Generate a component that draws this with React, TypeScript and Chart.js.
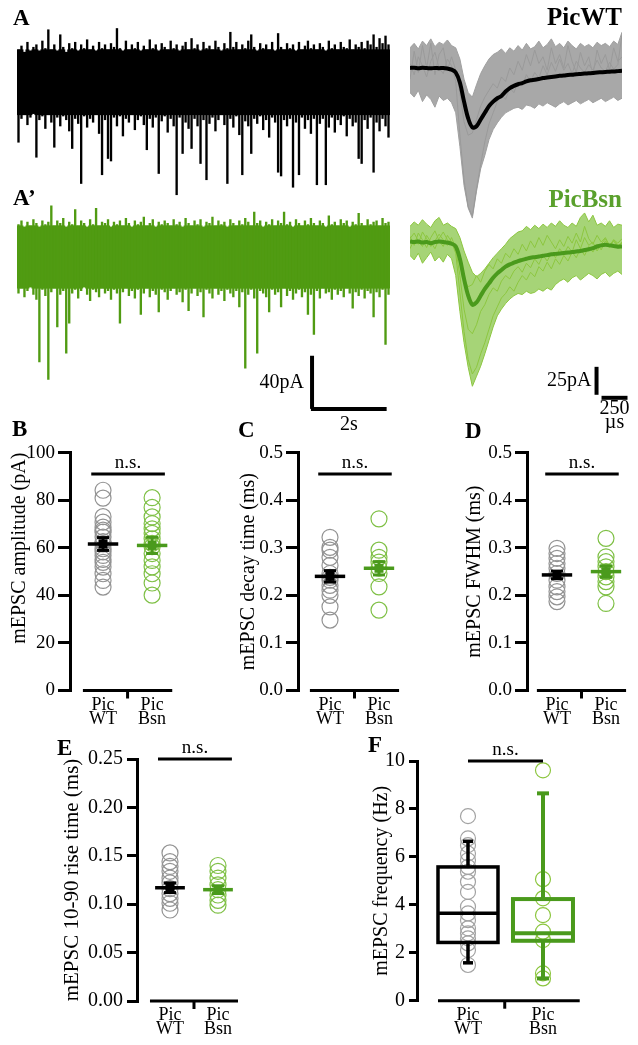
import React, { useEffect, useRef } from "react";
import { Chart, registerables } from "chart.js";

Chart.register(...registerables);

const SERIF = "'Liberation Serif', 'Times New Roman', Times, serif";
const BLACK = "#000000";
const TRACE_GREEN = "#509b12";
const LIGHT_GREEN = "#8cc63f";
const MEAN_GREEN = "#4a9a1c";
const DOT_GRAY = "#939393";
const DOT_GREEN = "#7fc046";
const LABEL_GREEN = "#5aa02c";

// ---------- A / A' : continuous recordings, per-bin max / min (pA), 0.08 s bins ----------
const binSeconds = 0.08;
const wtTraceMax = [
  26, 29, 24, 32, 25, 28, 30, 25, 33, 27,
  42, 26, 30, 25, 38, 28, 24, 31, 27, 32,
  25, 30, 27, 34, 26, 29, 25, 32, 27, 30,
  26, 31, 28, 43, 27, 25, 33, 26, 30, 27,
  32, 25, 29, 26, 34, 27, 30, 25, 31, 28,
  26, 33, 27, 30, 25, 29, 32, 26, 35, 27,
  30, 25, 32, 27, 29, 26, 33, 28, 25, 31,
  27, 40, 28, 32, 26, 30, 27, 33, 38, 28,
  25, 31, 27, 30, 26, 32, 25, 39, 28, 26,
  31, 27, 30, 25, 32, 26, 29, 33, 27, 30,
  26, 31, 28, 25, 33, 27, 30, 26, 32, 28,
  27, 34, 26, 30, 28, 32, 27, 33, 30, 38,
  28, 35, 31, 37, 30,
];
const wtTraceMin = [
  -48, -29, -26, -34, -28, -25, -60, -30, -27, -37,
  -26, -32, -52, -28, -35, -27, -30, -39, -53, -29,
  -33, -81, -27, -36, -29, -32, -26, -41, -74, -30,
  -61, -63, -28, -35, -27, -43, -29, -32, -26, -38,
  -30, -27, -34, -54, -29, -36, -28, -73, -31, -27,
  -40, -29, -35, -90, -28, -57, -32, -37, -53, -29,
  -35, -65, -30, -78, -33, -28, -39, -30, -26, -34,
  -81, -29, -36, -27, -42, -74, -31, -35, -57, -29,
  -33, -27, -38, -30, -44, -28, -32, -72, -75, -30,
  -35, -29, -84, -32, -74, -28, -37, -30, -41, -29,
  -82, -33, -29, -82, -36, -28, -40, -30, -34, -27,
  -43, -29, -35, -32, -61, -65, -30, -37, -28, -72,
  -32, -39, -29, -35, -44,
];
const bsnTraceMax = [
  26, 29, 24, 28, 25, 30, 27, 24, 29, 26,
  28, 41, 25, 29, 27, 31, 24, 28, 26, 38,
  25, 29, 27, 24, 30, 26, 39, 25, 28, 27,
  30, 24, 28, 26, 29, 25, 31, 27, 24, 29,
  26, 28, 32, 25, 27, 30, 24, 28, 26, 29,
  27, 25, 30, 26, 28, 24, 31, 27, 25, 29,
  26, 30, 24, 28, 27, 32, 25, 29, 26, 28,
  24, 30, 27, 25, 29, 26, 31, 28, 25, 36,
  27, 29, 24, 28, 26, 30, 25, 29, 27, 36,
  26, 28, 24, 30, 27, 25, 29, 26, 31, 27,
  25, 29, 27, 24, 33, 26, 28, 25, 30, 27,
  29, 24, 28, 26, 35, 27, 25, 30, 26, 28,
  29, 25, 31, 27, 28,
];
const bsnTraceMin = [
  -29, -25, -32, -27, -24, -30, -34, -84, -26, -31,
  -98, -28, -25, -56, -30, -27, -77, -53, -29, -26,
  -33, -27, -24, -30, -35, -26, -28, -32, -25, -29,
  -27, -34, -26, -29, -53, -28, -25, -31, -27, -33,
  -26, -46, -29, -25, -32, -27, -30, -44, -26, -28,
  -34, -27, -25, -30, -28, -36, -26, -43, -29, -25,
  -31, -28, -48, -26, -29, -33, -25, -30, -27, -35,
  -26, -29, -32, -27, -40, -28, -89, -30, -26, -33,
  -77, -27, -29, -32, -44, -26, -30, -28, -40, -25,
  -31, -27, -34, -29, -26, -32, -28, -46, -30, -62,
  -27, -33, -25, -29, -28, -34, -26, -30, -27, -32,
  -25, -29, -41, -28, -31, -26, -33, -27, -29, -48,
  -28, -32, -26, -70, -30,
];
// half-width (pA) of the dense noise core drawn as a solid band
const wtNoiseCore = 26;
const bsnNoiseCore = 25;

// ---------- averaged events (pA), sampled every 40 µs ----------
const eventStepUs = 40;
const wtEventMean = [
  0, 0.3, -0.2, 0.2, 0, -0.3, 0.1, -0.2, 0, -0.5,
  -1.5, -4, -13, -30, -45, -53, -52, -46, -40, -34,
  -30, -27, -25, -21, -18, -16, -14.5, -13.5, -12, -11,
  -10.5, -9.8, -9, -8.5, -8, -7.5, -7, -6.8, -6.3, -6,
  -5.6, -5.3, -5, -4.7, -4.4, -4, -3.8, -3.6, -3.3, -3.1,
  -2.8, -2.5,
];
const wtEventUpper = [
  18, 22, 17, 24, 20, 26, 19, 23, 21, 25,
  20, 18, 8, -10, -22, -26, -15, -5, 2, 8,
  12, 14, 17, 13, 18, 15, 20, 16, 22, 17,
  19, 24, 18, 21, 26, 19, 22, 18, 24, 20,
  17, 22, 19, 21, 18, 23, 20, 22, 19, 24,
  21, 32,
];
const wtEventLower = [
  -22, -26, -20, -30, -24, -28, -35, -25, -29, -27,
  -31, -40, -70, -105, -125, -134, -110, -90, -78, -64,
  -55, -49, -44, -40, -38, -36, -35, -37, -33, -34,
  -36, -32, -34, -31, -33, -35, -32, -30, -33, -31,
  -29, -32, -30, -28, -31, -29, -27, -30, -28, -26,
  -29, -27,
];
const wtEventSingle1 = [
  4, -6, 10, 2, -8, 6, 14, 0, -5, 8,
  2, -12, -60, -100, -124, -132, -108, -86, -66, -50,
  -40, -30, -24, -28, -18, -22, -12, -16, -6, -12,
  -4, -9, 2, -6, 5, -3, 8, -2, 4, -5,
  6, 0, -4, 3, -2, 7, 0, -3, 5, -1,
  3, 30,
];
const wtEventSingle2 = [
  -10, 15, -4, 20, 0, 22, -6, 12, 18, -2,
  10, -2, -22, -48, -60, -58, -46, -34, -26, -20,
  -14, -18, -8, -12, 0, -6, 6, -2, 12, 2,
  16, 4, 10, -2, 18, 4, 12, 0, 20, 6,
  -4, 14, 2, 10, -6, 16, 4, 12, -2, 18,
  6, 10,
];
const bsnEventMean = [
  0.5, 0, 0.5, -0.5, 0, -1, 0, 0.5, 0, -0.5,
  -1.5, -4, -15, -33, -48, -56, -54, -48, -42, -37,
  -32, -28, -25, -22, -20, -18.5, -17, -16, -15, -14,
  -13.5, -13, -12.2, -11.7, -11, -10.6, -10.2, -9.8, -9.4, -9,
  -8.5, -8, -7.2, -6.5, -5.5, -4, -3, -2.5, -3, -3.5,
  -4.2, -4,
];
const bsnEventUpper = [
  14, 18, 15, 20, 16, 13, 19, 22, 15, 17,
  14, 12, 4, -8, -18, -27, -31, -28, -24, -19,
  -14, -10, -6, -2, 3, 6, 9, 10, 14, 11,
  15, 12, 16, 13, 17, 14, 19, 15, 13, 17,
  14, 22, 26, 18, 24, 15, 17, 14, 19, 13,
  16, 15,
];
const bsnEventLower = [
  -12, -16, -10, -19, -14, -9, -17, -13, -18, -11,
  -15, -30, -62, -90, -112, -129, -120, -111, -100, -88,
  -76, -66, -60, -55, -51, -48, -46, -47, -44, -46,
  -45, -42, -44, -41, -43, -38, -35, -33, -36, -32,
  -30, -34, -31, -28, -30, -33, -29, -27, -31, -28,
  -26, -29,
];
const bsnEventSingle1 = [
  5, -3, 8, 2, -5, 4, 10, 1, -4, 6,
  0, -10, -45, -80, -105, -118, -112, -100, -90, -78,
  -66, -58, -50, -46, -40, -44, -36, -30, -34, -27,
  -31, -22, -26, -18, -24, -15, -20, -12, -17, -9,
  -14, -6, -12, -4, -9, -2, -7, 1, -5, 2,
  -3, -1,
];
const bsnEventSingle2 = [
  -6, 2, -2, 9, 3, -4, 1, 7, 2, -3,
  4, -6, -30, -60, -78, -82, -74, -62, -56, -47,
  -41, -44, -35, -30, -33, -26, -22, -27, -19, -23,
  -15, -20, -12, -17, -10, -14, -6, -11, -4, -9,
  2, -6, 4, -3, 0, -8, -2, 3, -4, 1,
  -5, 0,
];
const bsnEventSingle3 = [
  3, 8, 1, -4, 6, 0, -6, 3, 9, 2,
  -2, -5, -18, -34, -40, -38, -30, -36, -26, -20,
  -24, -15, -19, -10, -14, -6, -11, -2, -8, 1,
  -5, 4, -3, 6, 0, -6, 2, -4, 5, -1,
  8, 0, 14, 3, -2, 6, 0, 4, -3, 2,
  -1, 3,
];

// ---------- B-F : per-cell values ----------
const groupLabels = [["Pic", "WT"], ["Pic", "Bsn"]];
const ampWT = [84.2, 80.9, 73.1, 70.8, 68.7, 67.4, 66.6, 64.5, 62.6, 61.7, 59.6, 58.3, 56.8, 55.1, 53.9, 51.9, 49.1, 46.3, 43.5];
const ampBsn = [81.1, 77.0, 73.0, 70.2, 68.0, 66.1, 63.8, 61.9, 60.5, 57.6, 54.7, 52.0, 49.1, 45.2, 40.1];
const ampMean = [61.6, 61.0];
const ampSem = [2.7, 3.4];

const decayWT = [0.322, 0.301, 0.295, 0.28, 0.263, 0.246, 0.238, 0.232, 0.221, 0.211, 0.2, 0.176, 0.148];
const decayBsn = [0.361, 0.295, 0.28, 0.27, 0.257, 0.246, 0.218, 0.169];
const decayMean = [0.24, 0.257];
const decaySem = [0.012, 0.014];

const fwhmWT = [0.299, 0.288, 0.278, 0.267, 0.257, 0.246, 0.232, 0.218, 0.208, 0.197, 0.187];
const fwhmBsn = [0.32, 0.281, 0.271, 0.26, 0.25, 0.239, 0.229, 0.218, 0.183];
const fwhmMean = [0.243, 0.25];
const fwhmSem = [0.008, 0.012];

const riseWT = [0.153, 0.144, 0.139, 0.134, 0.127, 0.122, 0.116, 0.111, 0.106, 0.101, 0.094];
const riseBsn = [0.14, 0.134, 0.127, 0.12, 0.115, 0.1095, 0.104, 0.099];
const riseMean = [0.117, 0.115];
const riseSem = [0.005, 0.004];

const freqWT = [7.7, 6.77, 6.49, 6.14, 5.86, 5.58, 5.38, 4.96, 4.54, 3.92, 3.64, 3.36, 3.02, 2.81, 2.6, 2.39, 2.11, 1.49];
const freqBsn = [9.61, 5.07, 4.27, 3.57, 2.88, 2.53, 1.14, 0.93];
// [min, q1, median, q3, max]
const freqBoxWT = [1.58, 2.43, 3.65, 5.58, 6.65];
const freqBoxBsn = [0.93, 2.5, 2.81, 4.24, 8.65];

// ---------- helpers ----------
type Pad = { left: number; top: number; right: number; bottom: number };

function baseOptions(pad: Pad) {
  return {
    responsive: false,
    maintainAspectRatio: false,
    animation: false,
    devicePixelRatio: 1,
    events: [],
    layout: { padding: pad, autoPadding: false },
    plugins: { legend: { display: false }, tooltip: { enabled: false }, title: { display: false } },
  };
}

type ScaleBar = {
  vAt: number; vFrom: number; vTo: number; vText: string; vGap: number;
  hFrom: number; hTo: number; hAt: number; hText: string[]; hOffset: number; hLine: number;
};

function scaleBarPlugin(b: ScaleBar) {
  return {
    id: "scaleBar",
    afterDraw(chart: any) {
      const { ctx } = chart;
      const xs = chart.scales.x;
      const ys = chart.scales.y;
      ctx.save();
      ctx.strokeStyle = BLACK;
      ctx.lineWidth = 4;
      ctx.lineCap = "butt";
      const vx = xs.getPixelForValue(b.vAt);
      const vy0 = ys.getPixelForValue(b.vFrom);
      const vy1 = ys.getPixelForValue(b.vTo);
      ctx.beginPath();
      ctx.moveTo(vx, vy0);
      ctx.lineTo(vx, vy1);
      ctx.stroke();
      const hx0 = xs.getPixelForValue(b.hFrom);
      const hx1 = xs.getPixelForValue(b.hTo);
      const hy = ys.getPixelForValue(b.hAt);
      ctx.beginPath();
      ctx.moveTo(hx0, hy);
      ctx.lineTo(hx1, hy);
      ctx.stroke();
      ctx.fillStyle = BLACK;
      ctx.font = `20px ${SERIF}`;
      ctx.textAlign = "right";
      ctx.textBaseline = "middle";
      ctx.fillText(b.vText, vx - b.vGap, (vy0 + vy1) / 2);
      ctx.textAlign = "center";
      b.hText.forEach((s, i) => ctx.fillText(s, (hx0 + hx1) / 2, hy + b.hOffset + i * b.hLine));
      ctx.restore();
    },
  };
}

function traceConfig(hi: number[], lo: number[], core: number, color: string, yMin: number, yMax: number, pad: Pad, bar?: ScaleBar) {
  const coreData = hi.map((h, i) => ({ x: i * binSeconds, y: [Math.max(lo[i], -core), Math.min(h, core)] }));
  const fullData = hi.map((h, i) => ({ x: i * binSeconds, y: [lo[i], h] }));
  return {
    type: "bar",
    data: {
      datasets: [
        { data: fullData, backgroundColor: color, borderWidth: 0, barThickness: 1.7, grouped: false },
        { data: coreData, backgroundColor: color, borderWidth: 0, barThickness: 3.3, grouped: false },
      ],
    },
    options: {
      ...baseOptions(pad),
      scales: {
        x: { type: "linear", display: false, offset: false, min: -binSeconds / 2, max: (hi.length - 0.5) * binSeconds },
        y: { type: "linear", display: false, min: yMin, max: yMax },
      },
    },
    plugins: bar ? [scaleBarPlugin(bar)] : [],
  };
}

function eventConfig(
  mean: number[], upper: number[], lower: number[], singles: number[][],
  colors: { mean: string; single: string; env: string; fill: string },
  yMin: number, yMax: number, pad: Pad, bar?: ScaleBar
) {
  const xy = (arr: number[]) => arr.map((v, k) => ({ x: k * eventStepUs, y: v }));
  const datasets: any[] = [
    { data: xy(mean), borderColor: colors.mean, borderWidth: 4, tension: 0.35, order: 0 },
    ...singles.map((tr) => ({ data: xy(tr), borderColor: colors.single, borderWidth: 1, order: 1 })),
    { data: xy(upper), borderColor: colors.env, borderWidth: 1, order: 2, fill: false },
    { data: xy(lower), borderColor: colors.env, borderWidth: 1, order: 2, fill: "-1", backgroundColor: colors.fill },
  ];
  return {
    type: "line",
    data: { datasets },
    options: {
      ...baseOptions(pad),
      elements: { point: { radius: 0 } },
      scales: {
        x: { type: "linear", display: false, min: 0, max: (mean.length - 1) * eventStepUs },
        y: { type: "linear", display: false, min: yMin, max: yMax },
      },
    },
    plugins: bar ? [scaleBarPlugin(bar)] : [],
  };
}

type ScatterSpec = {
  wt: number[]; bsn: number[];
  mean?: number[]; sem?: number[];
  box?: number[][];
  yMin: number; yMax: number; yStep: number; decimals: number;
  title: string; titleSize: number; titlePad: number; titleAlign?: string;
  tickSize: number; tickLen: number; tickPad: number;
  yWidth: number; pad: Pad;
  xMin: number; xMax: number; xHeight: number; xPad: number;
  radius: number; dotGray: string; dotGreen: string;
  nsY: number; nsFrom: number; nsTo: number;
  axisFrom: number; axisTo: number; axisMid: number;
};

function line(ctx: any, x0: number, y0: number, x1: number, y1: number, color: string, w: number) {
  ctx.strokeStyle = color;
  ctx.lineWidth = w;
  ctx.beginPath();
  ctx.moveTo(x0, y0);
  ctx.lineTo(x1, y1);
  ctx.stroke();
}

function scatterDecor(p: ScatterSpec) {
  return {
    id: "decor",
    afterDatasetsDraw(chart: any) {
      const { ctx } = chart;
      const xs = chart.scales.x;
      const ys = chart.scales.y;
      const colors = [BLACK, MEAN_GREEN];
      ctx.save();
      ctx.lineCap = "butt";
      if (p.box) {
        p.box.forEach((b, g) => {
          const c = colors[g];
          const w = g === 0 ? 3.5 : 4;
          const cx = xs.getPixelForValue(g + 1);
          const xl = xs.getPixelForValue(g + 1 - 0.4);
          const xr = xs.getPixelForValue(g + 1 + 0.4);
          const [mn, q1, md, q3, mx] = b.map((v) => ys.getPixelForValue(v));
          const cap = g === 0 ? 5 : 6;
          line(ctx, cx, q3, cx, mx, c, w);
          line(ctx, cx - cap, mx, cx + cap, mx, c, w);
          line(ctx, cx, q1, cx, mn, c, w);
          line(ctx, cx - cap, mn, cx + cap, mn, c, w);
          ctx.strokeStyle = c;
          ctx.lineWidth = w;
          ctx.strokeRect(xl, q3, xr - xl, q1 - q3);
          line(ctx, xl, md, xr, md, c, w);
        });
      }
      if (p.mean && p.sem) {
        p.mean.forEach((m, g) => {
          const c = colors[g];
          const cx = xs.getPixelForValue(g + 1);
          const ym = ys.getPixelForValue(m);
          const yHi = ys.getPixelForValue(m + p.sem![g]);
          const yLo = ys.getPixelForValue(m - p.sem![g]);
          line(ctx, xs.getPixelForValue(g + 1 - 0.31), ym, xs.getPixelForValue(g + 1 + 0.31), ym, c, 3.5);
          line(ctx, cx, yHi, cx, yLo, c, 3);
          line(ctx, cx - 6, yHi, cx + 6, yHi, c, 3);
          line(ctx, cx - 6, yLo, cx + 6, yLo, c, 3);
          ctx.fillStyle = c;
          ctx.fillRect(cx - 4.5, ym - 4.5, 9, 9);
        });
      }
      // offset x axis
      const y0 = ys.getPixelForValue(p.yMin);
      line(ctx, xs.getPixelForValue(p.axisFrom), y0, xs.getPixelForValue(p.axisTo), y0, BLACK, 3);
      const xm = xs.getPixelForValue(p.axisMid);
      line(ctx, xm, y0, xm, y0 + 8, BLACK, 3);
      // n.s.
      const yn = ys.getPixelForValue(p.nsY);
      const n0 = xs.getPixelForValue(p.nsFrom);
      const n1 = xs.getPixelForValue(p.nsTo);
      line(ctx, n0, yn, n1, yn, BLACK, 3);
      ctx.fillStyle = BLACK;
      ctx.font = `19px ${SERIF}`;
      ctx.textAlign = "center";
      ctx.textBaseline = "alphabetic";
      ctx.fillText("n.s.", (n0 + n1) / 2, yn - 6);
      ctx.restore();
    },
  };
}

function scatterConfig(p: ScatterSpec) {
  const pts = (arr: number[], g: number) => arr.map((v) => ({ x: g, y: v }));
  return {
    type: "scatter",
    data: {
      datasets: [
        { data: pts(p.wt, 1), pointRadius: p.radius, pointBorderWidth: 1.2, pointBorderColor: p.dotGray, pointBackgroundColor: "rgba(0,0,0,0)" },
        { data: pts(p.bsn, 2), pointRadius: p.radius, pointBorderWidth: 1.2, pointBorderColor: p.dotGreen, pointBackgroundColor: "rgba(0,0,0,0)" },
      ],
    },
    options: {
      ...baseOptions(p.pad),
      scales: {
        x: {
          type: "linear",
          min: p.xMin,
          max: p.xMax,
          offset: false,
          grid: { display: false, drawTicks: false },
          border: { display: false },
          ticks: {
            autoSkip: false,
            maxRotation: 0,
            padding: p.xPad,
            color: BLACK,
            font: { family: SERIF, size: 18, lineHeight: 0.78 },
            callback: (v: number) => (v === 1 ? groupLabels[0] : v === 2 ? groupLabels[1] : ""),
          },
          afterBuildTicks: (s: any) => {
            s.ticks = [{ value: 1 }, { value: 2 }];
          },
          afterFit: (s: any) => {
            s.height = p.xHeight;
          },
        },
        y: {
          type: "linear",
          min: p.yMin,
          max: p.yMax,
          ticks: {
            stepSize: p.yStep,
            padding: p.tickPad,
            color: BLACK,
            font: { family: SERIF, size: p.tickSize },
            callback: (v: number) => Number(v).toFixed(p.decimals),
          },
          grid: { drawOnChartArea: false, drawTicks: true, tickLength: p.tickLen, lineWidth: 3, tickWidth: 3, color: BLACK },
          border: { display: true, width: 3, color: BLACK },
          title: {
            display: true,
            text: p.title,
            color: BLACK,
            align: p.titleAlign || "center",
            font: { family: SERIF, size: p.titleSize },
            padding: { top: p.titlePad, bottom: 0 },
          },
          afterFit: (s: any) => {
            s.width = p.yWidth;
          },
        },
      },
    },
    plugins: [scatterDecor(p)],
  };
}

// ---------- components ----------
type Geo = { left: number; top: number; width: number; height: number };

function ChartCanvas({ geo, make }: { geo: Geo; make: () => any }) {
  const ref = useRef<HTMLCanvasElement | null>(null);
  useEffect(() => {
    if (!ref.current) return;
    const chart = new Chart(ref.current, make());
    return () => chart.destroy();
  }, []);
  return (
    <canvas
      ref={ref}
      width={geo.width}
      height={geo.height}
      style={{ position: "absolute", left: geo.left, top: geo.top, width: geo.width, height: geo.height }}
    />
  );
}

function Label({ text, left, right, top, size, color, bold }: any) {
  return (
    <div
      style={{
        position: "absolute",
        left,
        right,
        top,
        fontFamily: SERIF,
        fontSize: size,
        lineHeight: 1,
        fontWeight: bold ? 700 : 400,
        color: color || BLACK,
        whiteSpace: "nowrap",
      }}
    >
      {text}
    </div>
  );
}

const commonBCD = {
  yMin: 0, titleSize: 20, tickSize: 19, tickLen: 12, tickPad: 3,
  xHeight: 44.5, xPad: 7.5, radius: 8, dotGray: DOT_GRAY, dotGreen: DOT_GREEN,
  nsFrom: 0.76, nsTo: 2.26, axisFrom: 0.59, axisTo: 2.41, axisMid: 1.5,
};

export default function App() {
  return (
    <div style={{ position: "absolute", left: 0, top: 0, width: 638, height: 1045, background: "#fff", overflow: "hidden" }}>
      <ChartCanvas
        geo={{ left: 0, top: 0, width: 400, height: 215 }}
        make={() => traceConfig(wtTraceMax, wtTraceMin, wtNoiseCore, BLACK, -95, 45, { left: 17, top: 26, right: 10, bottom: 14 })}
      />
      <ChartCanvas
        geo={{ left: 0, top: 180, width: 400, height: 260 }}
        make={() =>
          traceConfig(bsnTraceMax, bsnTraceMin, bsnNoiseCore, TRACE_GREEN, -103, 45, { left: 17, top: 20.75, right: 10, bottom: 54.25 }, {
            vAt: 7.87, vFrom: -79, vTo: -121.5, vText: "40pA", vGap: 8,
            hFrom: 7.84, hTo: 9.87, hAt: -121.5, hText: ["2s"], hOffset: 16, hLine: 14,
          })
        }
      />
      <ChartCanvas
        geo={{ left: 400, top: 0, width: 238, height: 232 }}
        make={() =>
          eventConfig(wtEventMean, wtEventUpper, wtEventLower, [wtEventSingle1, wtEventSingle2],
            { mean: BLACK, single: "#9a9a9a", env: "#a0a0a0", fill: "#a8a8a8" },
            -138, 34, { left: 10, top: 29.9, right: 16, bottom: 9.4 })
        }
      />
      <ChartCanvas
        geo={{ left: 400, top: 180, width: 238, height: 260 }}
        make={() =>
          eventConfig(bsnEventMean, bsnEventUpper, bsnEventLower, [bsnEventSingle1, bsnEventSingle2, bsnEventSingle3],
            { mean: MEAN_GREEN, single: LIGHT_GREEN, env: LIGHT_GREEN, fill: "rgba(150,205,95,0.85)" },
            -135, 34, { left: 10, top: 24, right: 16, bottom: 47 }, {
              vAt: 1795, vFrom: -111.6, vTo: -136.6, vText: "25pA", vGap: 5,
              hFrom: 1843, hTo: 2093, hAt: -139.3, hText: ["250", "µs"], hOffset: 11, hLine: 14,
            })
        }
      />

      <ChartCanvas
        geo={{ left: 0, top: 430, width: 205, height: 305 }}
        make={() =>
          scatterConfig({
            ...commonBCD, wt: ampWT, bsn: ampBsn, mean: ampMean, sem: ampSem,
            yMax: 100, yStep: 20, decimals: 0, title: "mEPSC amplitude (pA)", titlePad: 8, titleAlign: "end",
            yWidth: 70, pad: { left: 0, top: 22.7, right: 20, bottom: 0 }, xMin: 0.327, xMax: 2.67, nsY: 91,
          })
        }
      />
      <ChartCanvas
        geo={{ left: 205, top: 430, width: 215, height: 305 }}
        make={() =>
          scatterConfig({
            ...commonBCD, wt: decayWT, bsn: decayBsn, mean: decayMean, sem: decaySem,
            yMax: 0.5, yStep: 0.1, decimals: 1, title: "mEPSC decay time (ms)", titlePad: 4,
            yWidth: 65, pad: { left: 28, top: 22.7, right: 15, bottom: 0 }, xMin: 0.347, xMax: 2.531, nsY: 0.455,
          })
        }
      />
      <ChartCanvas
        geo={{ left: 420, top: 430, width: 218, height: 305 }}
        make={() =>
          scatterConfig({
            ...commonBCD, wt: fwhmWT, bsn: fwhmBsn, mean: fwhmMean, sem: fwhmSem,
            yMax: 0.5, yStep: 0.1, decimals: 1, title: "mEPSC FWHM (ms)", titlePad: 4,
            yWidth: 68, pad: { left: 39, top: 22.7, right: 8, bottom: 0 }, xMin: 0.388, xMax: 2.49, nsY: 0.455,
          })
        }
      />
      <ChartCanvas
        geo={{ left: 0, top: 730, width: 260, height: 315 }}
        make={() =>
          scatterConfig({
            wt: riseWT, bsn: riseBsn, mean: riseMean, sem: riseSem,
            yMin: 0, yMax: 0.25, yStep: 0.05, decimals: 2, title: "mEPSC 10-90 rise time (ms)", titleSize: 21, titlePad: 4,
            tickSize: 20, tickLen: 10, tickPad: 4, yWidth: 81.6, pad: { left: 55.4, top: 29, right: 10, bottom: 0 },
            xMin: 0.3125, xMax: 2.667, xHeight: 44, xPad: 6.75, radius: 8, dotGray: DOT_GRAY, dotGreen: DOT_GREEN,
            nsY: 0.25, nsFrom: 0.75, nsTo: 2.29, axisFrom: 0.583, axisTo: 2.417, axisMid: 1.5,
          })
        }
      />
      <ChartCanvas
        geo={{ left: 300, top: 730, width: 300, height: 315 }}
        make={() =>
          scatterConfig({
            wt: freqWT, bsn: freqBsn, box: [freqBoxWT, freqBoxBsn],
            yMin: 0, yMax: 10, yStep: 2, decimals: 0, title: "mEPSC frequency (Hz)", titleSize: 20, titlePad: 4,
            tickSize: 20, tickLen: 8, tickPad: 4, yWidth: 51.6, pad: { left: 65.4, top: 31, right: 10, bottom: 0 },
            xMin: 0.32, xMax: 2.627, xHeight: 44.3, xPad: 8, radius: 7.5, dotGray: "#a3a3a3", dotGreen: LIGHT_GREEN,
            nsY: 10, nsFrom: 1.0, nsTo: 2.0, axisFrom: 0.6, axisTo: 2.49, axisMid: 1.49,
          })
        }
      />

      <Label text="A" left={13} top={5.7} size={23} bold />
      <Label text="A’" left={13} top={185.7} size={23} bold />
      <Label text="PicWT" right={16} top={4.1} size={25} bold />
      <Label text="PicBsn" right={16} top={185.8} size={25} bold color={LABEL_GREEN} />
      <Label text="B" left={12} top={417} size={23} bold />
      <Label text="C" left={238} top={418} size={23} bold />
      <Label text="D" left={465} top={418.7} size={23} bold />
      <Label text="E" left={57} top={735.7} size={23} bold />
      <Label text="F" left={368} top={732.7} size={23} bold />
    </div>
  );
}
